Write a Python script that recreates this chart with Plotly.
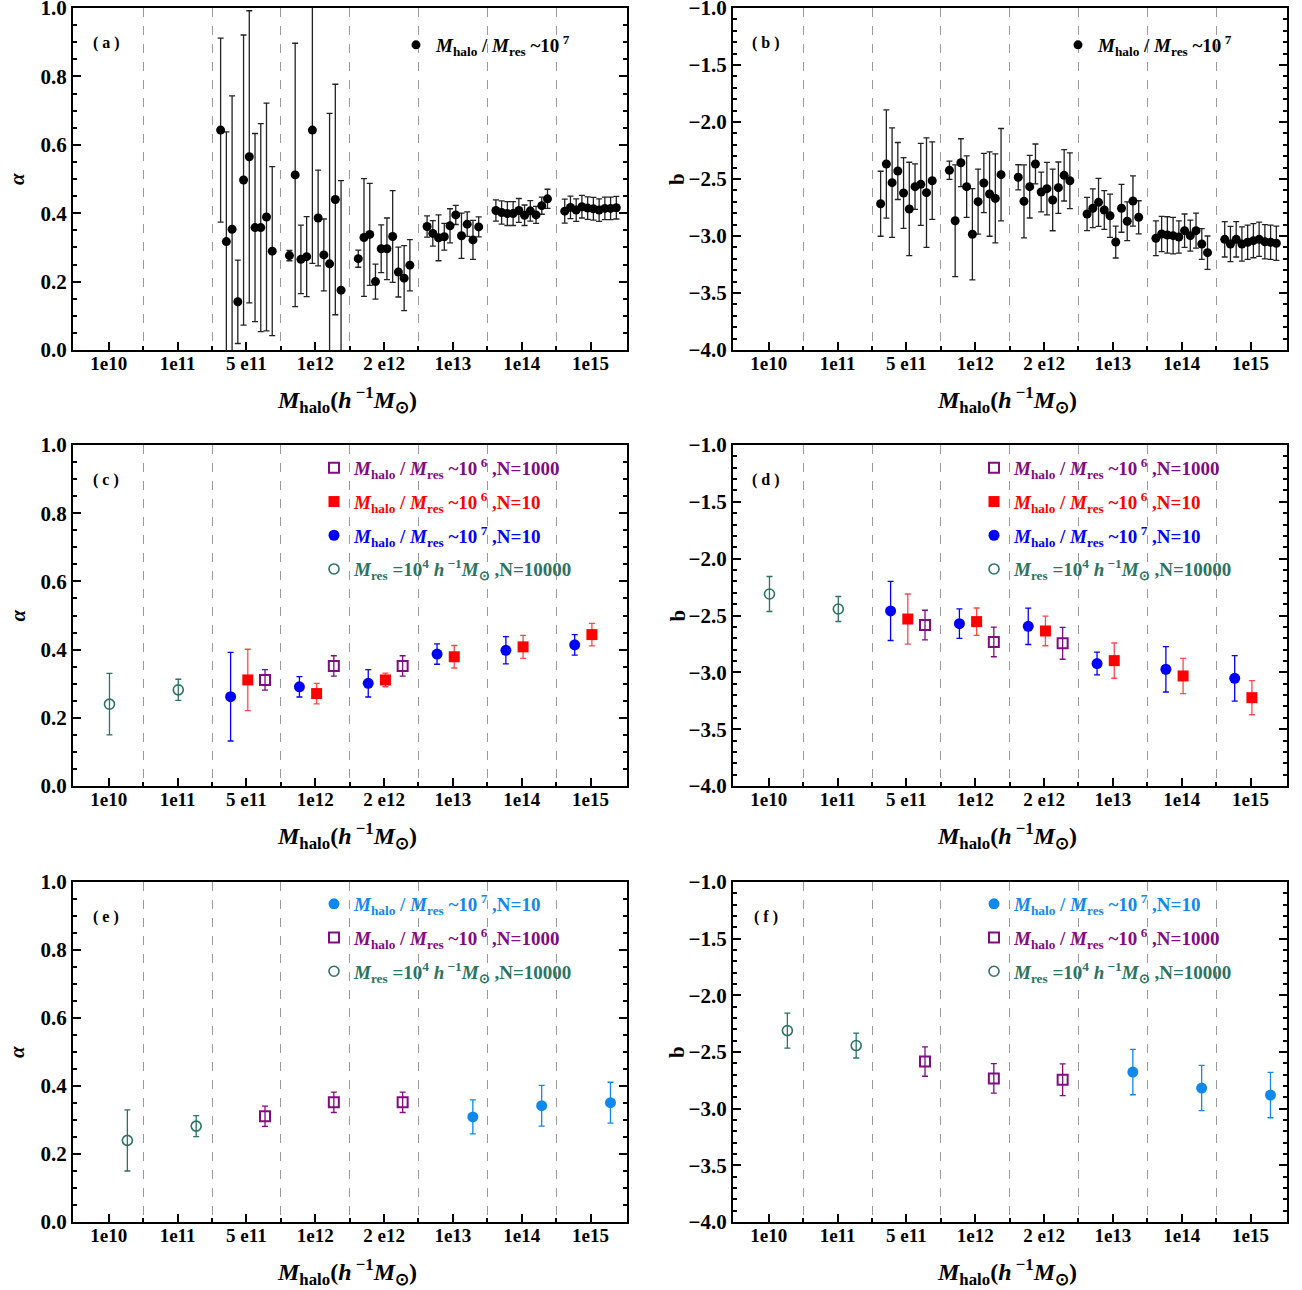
import plotly.graph_objects as go

# ---------------- data ----------------
categories = ['1e10', '1e11', '5 e11', '1e12', '2 e12', '1e13', '1e14', '1e15']
cat_index = [0, 1, 2, 3, 4, 5, 6, 7]

# panel (a): alpha, 10 sub-bins per mass bin (bins 5e11 .. 1e15)
a_bins = [2, 3, 4, 5, 6, 7]
a_5e11 = [0.643, 0.317, 0.353, 0.141, 0.497, 0.565, 0.358, 0.358, 0.389, 0.289]
a_5e11_err = [0.269, 0.321, 0.390, 0.122, 0.424, 0.427, 0.275, 0.304, 0.333, 0.247]
a_1e12 = [0.276, 0.512, 0.265, 0.273, 0.643, 0.386, 0.278, 0.252, 0.440, 0.175]
a_1e12_err = [0.015, 0.385, 0.100, 0.117, 0.390, 0.140, 0.105, 0.440, 0.337, 0.320]
a_2e12 = [0.267, 0.329, 0.338, 0.200, 0.296, 0.296, 0.332, 0.228, 0.210, 0.248]
a_2e12_err = [0.025, 0.172, 0.149, 0.051, 0.070, 0.090, 0.134, 0.073, 0.095, 0.075]
a_1e13 = [0.361, 0.341, 0.328, 0.331, 0.363, 0.395, 0.334, 0.368, 0.322, 0.360]
a_1e13_err = [0.031, 0.037, 0.067, 0.039, 0.050, 0.028, 0.066, 0.036, 0.057, 0.029]
a_1e14 = [0.408, 0.402, 0.399, 0.399, 0.408, 0.394, 0.407, 0.395, 0.422, 0.442]
a_1e14_err = [0.031, 0.034, 0.035, 0.035, 0.035, 0.030, 0.030, 0.025, 0.025, 0.028]
a_1e15 = [0.406, 0.417, 0.409, 0.419, 0.415, 0.413, 0.409, 0.414, 0.414, 0.416]
a_1e15_err = [0.035, 0.033, 0.033, 0.033, 0.033, 0.033, 0.033, 0.033, 0.033, 0.033]

# panel (b): b
b_5e11 = [-2.717, -2.368, -2.532, -2.430, -2.623, -2.763, -2.567, -2.547, -2.620, -2.515]
b_5e11_err = [0.285, 0.475, 0.480, 0.250, 0.310, 0.410, 0.200, 0.360, 0.480, 0.340]
b_1e12 = [-2.424, -2.866, -2.357, -2.567, -2.985, -2.699, -2.535, -2.632, -2.670, -2.462]
b_1e12_err = [0.080, 0.490, 0.210, 0.270, 0.400, 0.285, 0.260, 0.370, 0.390, 0.405]
b_2e12 = [-2.485, -2.696, -2.567, -2.368, -2.614, -2.585, -2.684, -2.576, -2.468, -2.515]
b_2e12_err = [0.110, 0.320, 0.275, 0.175, 0.175, 0.230, 0.270, 0.225, 0.225, 0.245]
b_1e13 = [-2.807, -2.757, -2.705, -2.772, -2.822, -3.053, -2.757, -2.871, -2.693, -2.836]
b_1e13_err = [0.145, 0.170, 0.210, 0.170, 0.190, 0.140, 0.210, 0.170, 0.220, 0.145]
b_1e14 = [-3.020, -2.982, -2.991, -2.997, -3.009, -2.953, -2.997, -2.953, -3.070, -3.146]
b_1e14_err = [0.152, 0.155, 0.160, 0.160, 0.142, 0.146, 0.136, 0.154, 0.135, 0.146]
b_1e15 = [-3.029, -3.070, -3.029, -3.070, -3.055, -3.041, -3.029, -3.050, -3.055, -3.064]
b_1e15_err = [0.155, 0.155, 0.155, 0.150, 0.150, 0.150, 0.150, 0.150, 0.150, 0.150]

# panels (c)-(f): bin-averaged fits
green_bins = [0, 1]
green_alpha = [0.240, 0.282]
green_alpha_err = [0.090, 0.031]
green_b = [-2.311, -2.443]
green_b_err = [0.154, 0.110]

purple_bins = [2, 3, 4]
purple_alpha = [0.311, 0.352, 0.352]
purple_alpha_err = [0.030, 0.030, 0.030]
purple_b = [-2.584, -2.733, -2.745]
purple_b_err = [0.130, 0.130, 0.140]

n10_bins = [2, 3, 4, 5, 6, 7]
blue_alpha = [0.262, 0.291, 0.301, 0.387, 0.398, 0.414]
blue_alpha_err = [0.130, 0.030, 0.040, 0.030, 0.040, 0.030]
blue_b = [-2.460, -2.572, -2.595, -2.923, -2.973, -3.053]
blue_b_err = [0.260, 0.130, 0.160, 0.100, 0.200, 0.200]
red_alpha = [0.311, 0.271, 0.311, 0.379, 0.408, 0.444]
red_alpha_err = [0.090, 0.030, 0.020, 0.033, 0.034, 0.033]
red_b = [-2.531, -2.554, -2.636, -2.897, -3.032, -3.223]
red_b_err = [0.220, 0.120, 0.130, 0.155, 0.155, 0.150]

lb_bins = [5, 6, 7]
lightblue_alpha = [0.309, 0.342, 0.351]
lightblue_alpha_err = [0.050, 0.060, 0.060]
lightblue_b = [-2.677, -2.818, -2.880]
lightblue_b_err = [0.200, 0.200, 0.200]

# ---------------- style ----------------
FONT = 'Liberation Serif, Times New Roman, serif'
GREEN = '#2b7362'
PURPLE = '#820a82'
RED = '#ff0000'
BLUE = '#0000ff'
LBLUE = '#1188ee'

W, H = 1302, 1290
col_dom = [[73 / W, 627 / W], [733 / W, 1287 / W]]
row_dom = [[1 - 350 / H, 1 - 8 / H], [1 - 786 / H, 1 - 445 / H], [1 - 1222 / H, 1 - 882 / H]]

fig = go.Figure()

M_HALO = '<i>M</i><sub>halo</sub>'
M_RES = '<i>M</i><sub>res</sub>'
name_1e7 = f'{M_HALO} / {M_RES} ~10<sup> 7</sup>'
name_n1000 = f'{M_HALO} / {M_RES} ~10<sup> 6</sup> ,N=1000'
name_n10_6 = f'{M_HALO} / {M_RES} ~10<sup> 6</sup> ,N=10'
name_n10_7 = f'{M_HALO} / {M_RES} ~10<sup> 7</sup> ,N=10'
name_green = f'{M_RES} =10<sup>4</sup> <i>h</i><sup> −1</sup><i>M</i><sub>⊙</sub> ,N=10000'


def colored(txt, c):
    return f'<span style="color:{c}"><b>{txt}</b></span>'


_count = [0]


def add(panel, xs, ys, errs, color, symbol, size, name, legend,
        errcolor=None, lw=0):
    ax = '' if panel == 1 else str(panel)
    _count[0] += 1
    fig.add_trace(go.Scatter(
        x=xs, y=ys, mode='markers', name=name,
        xaxis='x' + ax, yaxis='y' + ax,
        legend=legend, legendgroup=f'g{_count[0]}', showlegend=True,
        marker=dict(color=color, symbol=symbol, size=size,
                    line=dict(color=color, width=lw)),
        error_y=dict(type='data', array=errs, color=errcolor or color,
                     thickness=1.3, width=3),
    ))


a_groups = [(a_5e11, a_5e11_err), (a_1e12, a_1e12_err), (a_2e12, a_2e12_err),
            (a_1e13, a_1e13_err), (a_1e14, a_1e14_err), (a_1e15, a_1e15_err)]
b_groups = [(b_5e11, b_5e11_err), (b_1e12, b_1e12_err), (b_2e12, b_2e12_err),
            (b_1e13, b_1e13_err), (b_1e14, b_1e14_err), (b_1e15, b_1e15_err)]


def spread(k, n):
    return [k - 0.375 + 0.75 * i / (n - 1) for i in range(n)]


for panel, groups, leg in [(1, a_groups, 'legend'), (2, b_groups, 'legend2')]:
    xs, ys, es = [], [], []
    for k, (v, e) in zip(a_bins, groups):
        xs += spread(k, len(v))
        ys += v
        es += e
    add(panel, xs, ys, es, 'black', 'circle', 9, colored(name_1e7, 'black'), leg,
        errcolor='#222222')

OFF_B, OFF_R, OFF_P = -0.23, 0.02, 0.27
for panel, leg, pv, pe, rv, re_, bv, be, gv, ge in [
        (3, 'legend3', purple_alpha, purple_alpha_err, red_alpha, red_alpha_err,
         blue_alpha, blue_alpha_err, green_alpha, green_alpha_err),
        (4, 'legend4', purple_b, purple_b_err, red_b, red_b_err,
         blue_b, blue_b_err, green_b, green_b_err)]:
    add(panel, [k + OFF_P for k in purple_bins], pv, pe, PURPLE, 'square-open', 10,
        colored(name_n1000, PURPLE), leg, lw=2)
    add(panel, [k + OFF_R for k in n10_bins], rv, re_, RED, 'square', 11,
        colored(name_n10_6, RED), leg, errcolor='rgba(255,40,40,0.85)')
    add(panel, [k + OFF_B for k in n10_bins], bv, be, BLUE, 'circle', 11,
        colored(name_n10_7, BLUE), leg)
    add(panel, [k + 0.01 for k in green_bins], gv, ge, GREEN, 'circle-open', 10,
        colored(name_green, GREEN), leg, lw=1.6)

OFF_E = 0.27
for panel, leg, lv, le, pv, pe, gv, ge in [
        (5, 'legend5', lightblue_alpha, lightblue_alpha_err, purple_alpha, purple_alpha_err,
         green_alpha, green_alpha_err),
        (6, 'legend6', lightblue_b, lightblue_b_err, purple_b, purple_b_err,
         green_b, green_b_err)]:
    add(panel, [k + OFF_E + 0.02 for k in lb_bins], lv, le, LBLUE, 'circle', 11,
        colored(name_n10_7, LBLUE), leg)
    add(panel, [k + OFF_E for k in purple_bins], pv, pe, PURPLE, 'square-open', 10,
        colored(name_n1000, PURPLE), leg, lw=2)
    add(panel, [k + OFF_E for k in green_bins], gv, ge, GREEN, 'circle-open', 10,
        colored(name_green, GREEN), leg, lw=1.6)

# ---------------- axes ----------------
layout = dict(width=W, height=H, margin=dict(l=0, r=0, t=0, b=0, autoexpand=False),
              template='none', showlegend=True,
              paper_bgcolor='white', plot_bgcolor='white',
              font=dict(family=FONT, color='black'))

for p in range(1, 7):
    col = (p - 1) % 2
    row = (p - 1) // 2
    ax = '' if p == 1 else str(p)
    layout['xaxis' + ax] = dict(
        domain=col_dom[col], anchor='y' + ax, range=[-0.52, 7.53], automargin=False,
        tickmode='array', tickvals=cat_index, ticktext=categories,
        ticks='inside', ticklen=8, tickwidth=2, tickcolor='black',
        showline=True, linecolor='black', linewidth=2, mirror=True,
        showgrid=False, zeroline=False, ticklabelstandoff=-5,
        tickfont=dict(family=FONT, size=19, weight='bold'),
        minor=dict(tickmode='array', tickvals=[i + 0.5 for i in range(7)],
                   ticks='inside', ticklen=4, tickcolor='black',
                   showgrid=True, gridcolor='#9a9a9a', griddash='dash', gridwidth=1),
    )
    if col == 0:
        yr, dt, mdt = [0, 1], 0.2, 0.05
    else:
        yr, dt, mdt = [-4, -1], 0.5, 0.1
    layout['yaxis' + ax] = dict(
        domain=row_dom[row], anchor='x' + ax, range=yr, automargin=False,
        tickmode='linear', tick0=yr[0], dtick=dt, tickformat='.1f',
        ticks='inside', ticklen=8, tickwidth=2, tickcolor='black',
        showline=True, linecolor='black', linewidth=2, mirror='allticks',
        showgrid=False, zeroline=False, ticklabeloverflow='allow',
        tickfont=dict(family=FONT, size=21, weight='bold'),
        minor=dict(dtick=mdt, tick0=yr[0], ticks='inside', ticklen=4,
                   tickcolor='black', showgrid=False),
    )

leg_pos = {
    'legend': (396, 26), 'legend2': (1058, 26),
    'legend3': (314, 449), 'legend4': (974, 449),
    'legend5': (314, 885), 'legend6': (974, 885),
}
for k, (px, py) in leg_pos.items():
    layout[k] = dict(x=px / W, y=1 - py / H, xanchor='left', yanchor='top',
                     bgcolor='rgba(0,0,0,0)', borderwidth=0, visible=True,
                     font=dict(family=FONT, size=19), itemwidth=30,
                     tracegroupgap=6)

fig.update_layout(**layout)

xtitle = '<b><i>M</i><sub>halo</sub>(<i>h</i><sup> −1</sup><i>M</i><sub>⊙</sub>)</b>'
labels = ['( a )', '( b )', '( c )', '( d )', '( e )', '( f )']
xt_y = [400, 836, 1272]
ann = []
for p in range(1, 7):
    col = (p - 1) % 2
    row = (p - 1) // 2
    x0 = col_dom[col][0]
    x1 = col_dom[col][1]
    top = row_dom[row][1]
    bot = row_dom[row][0]
    ann.append(dict(text=f'<b>{labels[p - 1]}</b>', x=x0 + 33 / W, y=top - 35 / H,
                    xref='paper', yref='paper', showarrow=False,
                    xanchor='center', yanchor='middle',
                    font=dict(family=FONT, size=16)))
    ann.append(dict(text=xtitle, x=(x0 + x1) / 2 - 3 / W, y=1 - xt_y[row] / H,
                    xref='paper', yref='paper', showarrow=False,
                    xanchor='center', yanchor='middle',
                    font=dict(family=FONT, size=24)))
    ytxt = '<b><i>α</i></b>' if col == 0 else '<b>b</b>'
    ann.append(dict(text=ytxt, x=x0 - 56 / W, y=(top + bot) / 2,
                    xref='paper', yref='paper', showarrow=False, textangle=-90,
                    xanchor='center', yanchor='middle',
                    font=dict(family=FONT, size=21)))
fig.update_layout(annotations=ann)

fig.write_html("out.html", config={'displayModeBar': False},
               post_script="document.body.style.margin='0px';")
